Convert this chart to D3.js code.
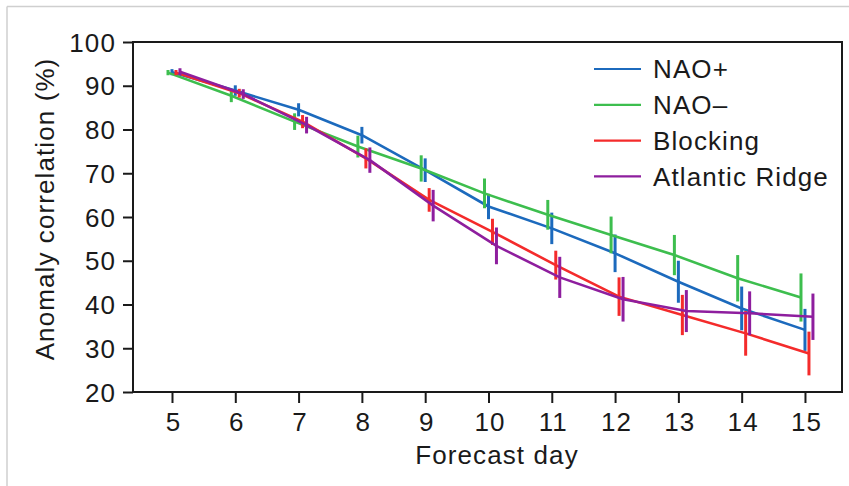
<!DOCTYPE html>
<html>
<head>
<meta charset="utf-8">
<script src="https://cdn.jsdelivr.net/npm/d3@7"></script>
<style>
  html, body { margin: 0; padding: 0; background: #fff; }
  svg { display: block; }
  text { font-family: "Liberation Sans", Arial, Helvetica, sans-serif; fill: #1a1a1a; }
</style>
</head>
<body>
<svg id="chart" width="849" height="486"></svg>
<script>
// ---- Data ----
const days = [5, 6, 7, 8, 9, 10, 11, 12, 13, 14, 15];
const xTicks = [5, 6, 7, 8, 9, 10, 11, 12, 13, 14, 15];
const yTicks = [20, 30, 40, 50, 60, 70, 80, 90, 100];
const seriesNames = ["NAO+", "NAO\u2013", "Blocking", "Atlantic Ridge"];
const seriesColors = ["#1c6abd", "#3dbe4e", "#f42b2b", "#8e1e9e"];

const naoPlus      = [93.1, 88.9, 84.5, 78.7, 70.7, 62.4, 57.4, 51.7, 45.2, 39.1, 34.2];
const naoPlusErr   = [0.7, 1.2, 1.5, 1.9, 2.7, 2.9, 3.6, 4.3, 4.8, 5.0, 4.8];
const naoMinus     = [93.0, 87.7, 81.8, 76.1, 71.1, 65.4, 60.5, 55.9, 51.3, 46.0, 41.6];
const naoMinusErr  = [0.6, 1.45, 1.9, 2.5, 3.0, 3.4, 3.4, 4.2, 4.6, 5.3, 5.5];
const blocking     = [93.0, 88.3, 81.8, 73.4, 63.9, 56.6, 49.0, 41.8, 37.6, 33.4, 28.8];
const blockingErr  = [0.6, 1.0, 1.5, 2.3, 2.7, 3.0, 3.3, 4.4, 4.6, 5.1, 5.0];
const atlRidge     = [93.2, 88.1, 81.0, 73.0, 62.6, 53.4, 46.2, 41.2, 38.5, 38.0, 37.2];
const atlRidgeErr  = [0.8, 1.1, 1.9, 2.9, 3.6, 4.2, 4.7, 5.1, 4.8, 5.0, 5.3];
// horizontal dodge of each series (in forecast days)
const dodge = [0, -0.063, 0.063, 0.126];

const seriesValues = [naoPlus, naoMinus, blocking, atlRidge];
const seriesErrors = [naoPlusErr, naoMinusErr, blockingErr, atlRidgeErr];

// ---- Layout ----
const svg = d3.select("#chart");
const L = 133, R = 842, T = 42, B = 392;
const FS = 26, LS = "1.1px";

const x = d3.scaleLinear().domain([4.384, 15.585]).range([L, R]);
const y = d3.scaleLinear().domain([20, 100]).range([B, T]);

// outer light frame
svg.append("line").attr("x1", 7).attr("x2", 849).attr("y1", 6.5).attr("y2", 6.5)
  .attr("stroke", "#cfcfcf").attr("stroke-width", 1.5);
svg.append("line").attr("x1", 7).attr("x2", 7).attr("y1", 6.5).attr("y2", 486)
  .attr("stroke", "#cfcfcf").attr("stroke-width", 1.5);

// plot box
svg.append("rect").attr("x", L).attr("y", T).attr("width", R - L).attr("height", B - T)
  .attr("fill", "none").attr("stroke", "#1a1a1a").attr("stroke-width", 2);

// axes
const yAxis = d3.axisLeft(y).tickValues(yTicks).tickSize(10).tickPadding(7);
const gy = svg.append("g").attr("transform", `translate(${L},0)`).call(yAxis);
const xAxis = d3.axisBottom(x).tickValues(xTicks).tickSize(11).tickPadding(5);
const gx = svg.append("g").attr("transform", `translate(0,${B})`).call(xAxis);
[gy, gx].forEach(g => {
  g.select(".domain").remove();
  g.selectAll(".tick line").attr("stroke", "#1a1a1a").attr("stroke-width", 2);
  g.selectAll(".tick text")
    .style("font-family", '"Liberation Sans", Arial, sans-serif')
    .style("font-size", FS + "px").style("letter-spacing", LS).attr("fill", "#1a1a1a");
});
gy.selectAll(".tick text").attr("dy", "0.35em");
gx.selectAll(".tick text").attr("dy", "0.9em").attr("dx", "1px");

// axis titles
svg.append("text").attr("x", 497).attr("y", 464).attr("text-anchor", "middle")
  .style("font-size", FS + "px").style("letter-spacing", LS).text("Forecast day");
svg.append("text").attr("transform", "translate(54,209) rotate(-90)").attr("text-anchor", "middle")
  .style("font-size", FS + "px").style("letter-spacing", LS).text("Anomaly correlation (%)");

// series
const line = d3.line().x(d => x(d.day)).y(d => y(d.v));
seriesNames.forEach((name, i) => {
  const pts = days.map((d, j) => ({ day: d + dodge[i], v: seriesValues[i][j], e: seriesErrors[i][j] }));
  const g = svg.append("g");
  g.append("path").datum(pts).attr("d", line).attr("fill", "none")
    .attr("stroke", seriesColors[i]).attr("stroke-width", 2.6).attr("stroke-linejoin", "round");
  g.selectAll("line.err").data(pts).join("line").attr("class", "err")
    .attr("x1", d => x(d.day)).attr("x2", d => x(d.day))
    .attr("y1", d => y(d.v - d.e)).attr("y2", d => y(d.v + d.e))
    .attr("stroke", seriesColors[i]).attr("stroke-width", 3);
});

// legend
const lg = svg.append("g");
seriesNames.forEach((name, i) => {
  const cy = 69 + i * 35.8;
  lg.append("line").attr("x1", 594).attr("x2", 641).attr("y1", cy).attr("y2", cy)
    .attr("stroke", seriesColors[i]).attr("stroke-width", 2.2);
  lg.append("text").attr("x", 653).attr("y", cy).attr("dy", "0.36em")
    .style("font-size", FS + "px").style("letter-spacing", LS).text(name);
});
</script>
</body>
</html>
